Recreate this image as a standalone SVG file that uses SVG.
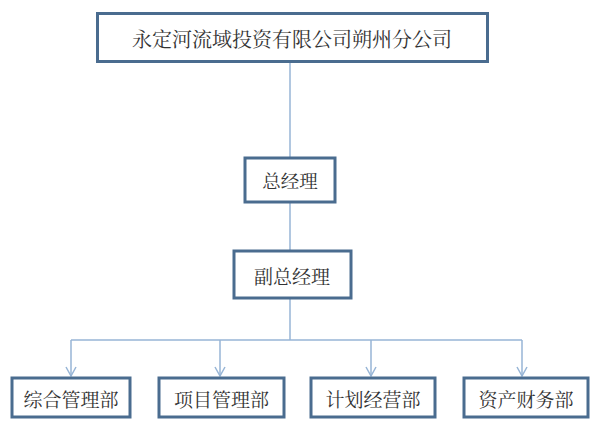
<svg xmlns="http://www.w3.org/2000/svg" width="599" height="431" viewBox="0 0 599 431">
<style>
.box{fill:#ffffff;stroke:#4a6c8f;stroke-width:3}
.lbl{font-family:"Noto Serif CJK SC","Liberation Serif","Noto Sans CJK SC",serif;fill:#333333;text-anchor:middle;dominant-baseline:central}
.con{fill:none;stroke:#97b5d6;stroke-width:1.5}
.ah{fill:none;stroke:#97b5d6;stroke-width:1.5}
</style>
<defs>
<marker id="arr" markerWidth="12" markerHeight="12" refX="10" refY="6" orient="auto" markerUnits="userSpaceOnUse">
<path d="M1,1 L10,6 L1,11" class="ah"/>
</marker>
</defs>
<rect width="599" height="431" fill="#ffffff"/>
<g id="connectors">
<line class="con" x1="290" y1="62" x2="290" y2="157"/>
<line class="con" x1="290" y1="203" x2="290" y2="250"/>
<line class="con" x1="290" y1="299" x2="290" y2="340"/>
<line class="con" x1="71" y1="340" x2="522" y2="340"/>
<line class="con" x1="71" y1="340" x2="71" y2="376" marker-end="url(#arr)"/>
<line class="con" x1="220" y1="340" x2="220" y2="376" marker-end="url(#arr)"/>
<line class="con" x1="371" y1="340" x2="371" y2="376" marker-end="url(#arr)"/>
<line class="con" x1="522" y1="340" x2="522" y2="376" marker-end="url(#arr)"/>
</g>
<g id="n_company">
<rect class="box" x="97.5" y="13.5" width="390" height="48"/>
<text class="lbl" x="292" y="38" font-size="20">永定河流域投资有限公司朔州分公司</text>
</g>
<g id="n_gm">
<rect class="box" x="245" y="158" width="90" height="44"/>
<text class="lbl" x="290" y="180" font-size="18.5">总经理</text>
</g>
<g id="n_dgm">
<rect class="box" x="234" y="251" width="117" height="47"/>
<text class="lbl" x="292" y="275" font-size="19">副总经理</text>
</g>
<g id="n_dept1">
<rect class="box" x="12" y="378" width="118" height="39"/>
<text class="lbl" x="71" y="398" font-size="19">综合管理部</text>
</g>
<g id="n_dept2">
<rect class="box" x="159" y="378" width="125" height="39"/>
<text class="lbl" x="221.5" y="398" font-size="19">项目管理部</text>
</g>
<g id="n_dept3">
<rect class="box" x="311" y="378" width="124" height="39"/>
<text class="lbl" x="373" y="398" font-size="19">计划经营部</text>
</g>
<g id="n_dept4">
<rect class="box" x="464" y="378" width="124" height="39"/>
<text class="lbl" x="526" y="398" font-size="19">资产财务部</text>
</g>
</svg>
